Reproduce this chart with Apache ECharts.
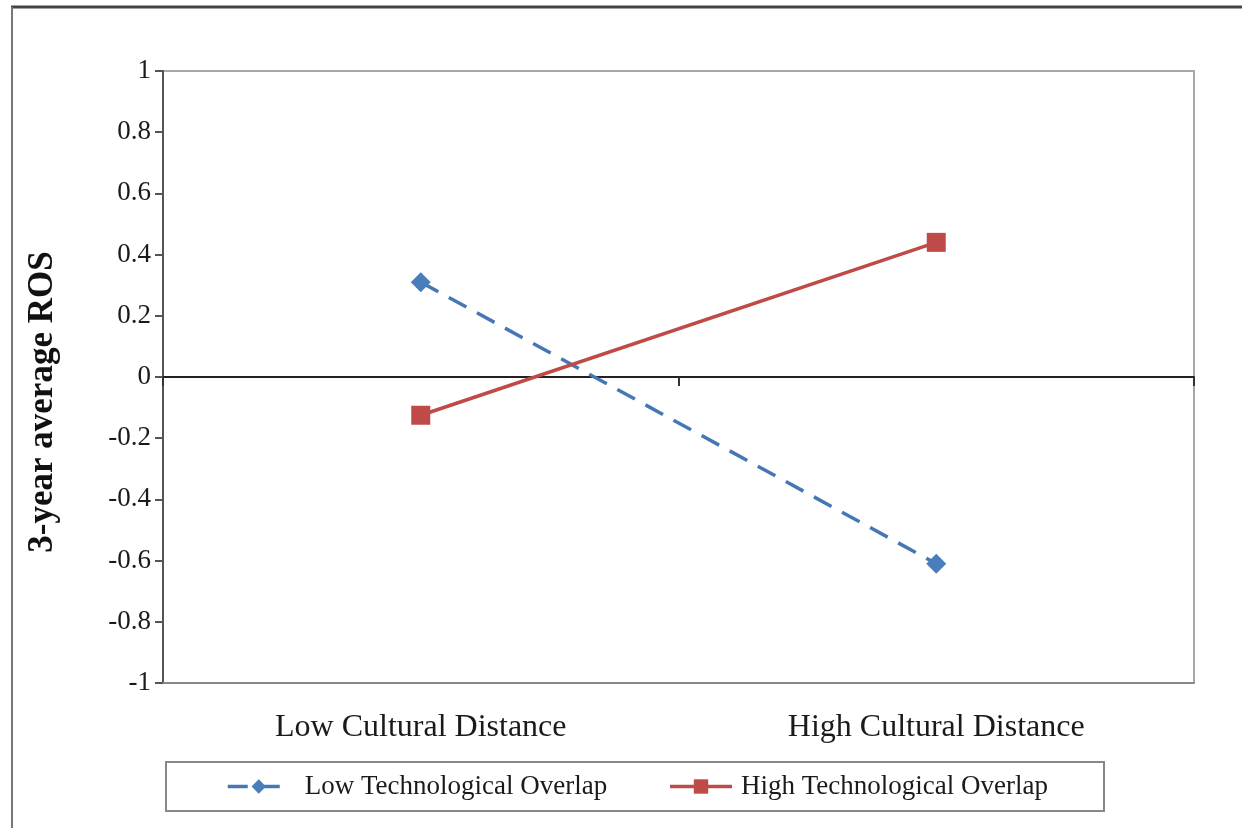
<!DOCTYPE html>
<html>
<head>
<meta charset="utf-8">
<script src="https://cdn.jsdelivr.net/npm/echarts@6/dist/echarts.min.js"></script>
<style>
html,body{margin:0;padding:0;background:#fff;}
#chart{width:1242px;height:828px;}
</style>
</head>
<body>
<div id="chart"></div>
<script>
const categories = ['Low Cultural Distance', 'High Cultural Distance'];
const lowTechOverlap = [0.31, -0.61];
const highTechOverlap = [-0.125, 0.44];
const seriesNames = ['Low Technological Overlap', 'High Technological Overlap'];
const yAxisTitle = '3-year average ROS';

const FONT = '"Liberation Serif", "Times New Roman", serif';
const chart = echarts.init(document.getElementById('chart'), null, {renderer: 'canvas'});
chart.setOption({
  backgroundColor: '#fff',
  animation: false,
  graphic: [
    {type: 'line', shape: {x1: 11, y1: 7, x2: 1242, y2: 7}, style: {stroke: '#444', lineWidth: 3}},
    {type: 'line', shape: {x1: 12, y1: 7, x2: 12, y2: 828}, style: {stroke: '#777', lineWidth: 2}}
  ],
  grid: {left: 163, top: 71, right: 48, bottom: 145, show: true, borderColor: '#a8a8a8', borderWidth: 2, backgroundColor: 'transparent'},
  legend: {
    left: 166, top: 762,
    padding: [11, 56, 11, 60],
    borderColor: '#888', borderWidth: 2,
    itemWidth: 62, itemHeight: 18, itemGap: 61,
    lineStyle: {width: 3.5},
    textStyle: {fontFamily: FONT, fontSize: 27, color: '#1a1a1a', padding: [0, 0, 0, 10]},
    data: [
      {name: seriesNames[0]},
      {name: seriesNames[1], textStyle: {padding: [0, 0, 0, 4]}}
    ]
  },
  xAxis: [
    {
      type: 'category', data: categories, position: 'bottom',
      axisLine: {onZero: false, lineStyle: {color: '#888', width: 2}},
      axisTick: {show: false},
      axisLabel: {fontFamily: FONT, fontSize: 32, color: '#1a1a1a', margin: 29},
      splitLine: {show: false}
    },
    {
      type: 'category', data: categories, position: 'bottom',
      axisLine: {onZero: true, lineStyle: {color: '#222', width: 2}},
      axisTick: {show: true, length: 9, lineStyle: {color: '#333', width: 2}},
      axisLabel: {show: false},
      splitLine: {show: false}
    }
  ],
  yAxis: {
    type: 'value', min: -1, max: 1, interval: 0.2,
    name: yAxisTitle, nameLocation: 'middle', nameRotate: 90, nameGap: 103,
    nameTextStyle: {fontFamily: FONT, fontSize: 35, fontWeight: 'bold', color: '#111', padding: [0, 50, 0, 0]},
    axisLine: {show: true, lineStyle: {color: '#555', width: 2}},
    axisTick: {show: true, length: 8, lineStyle: {color: '#555', width: 2}},
    axisLabel: {fontFamily: FONT, fontSize: 27, color: '#1a1a1a', margin: 12},
    splitLine: {show: false}
  },
  series: [
    {
      name: seriesNames[0], type: 'line', data: lowTechOverlap, xAxisIndex: 0,
      symbol: 'diamond', symbolSize: 20,
      lineStyle: {color: '#4677B5', width: 3.5, type: [20, 12]},
      itemStyle: {color: '#4A7EBB'}
    },
    {
      name: seriesNames[1], type: 'line', data: highTechOverlap, xAxisIndex: 0,
      symbol: 'rect', symbolSize: 19,
      lineStyle: {color: '#BE4B48', width: 3.5},
      itemStyle: {color: '#BE4B48'}
    }
  ]
});
</script>
</body>
</html>
